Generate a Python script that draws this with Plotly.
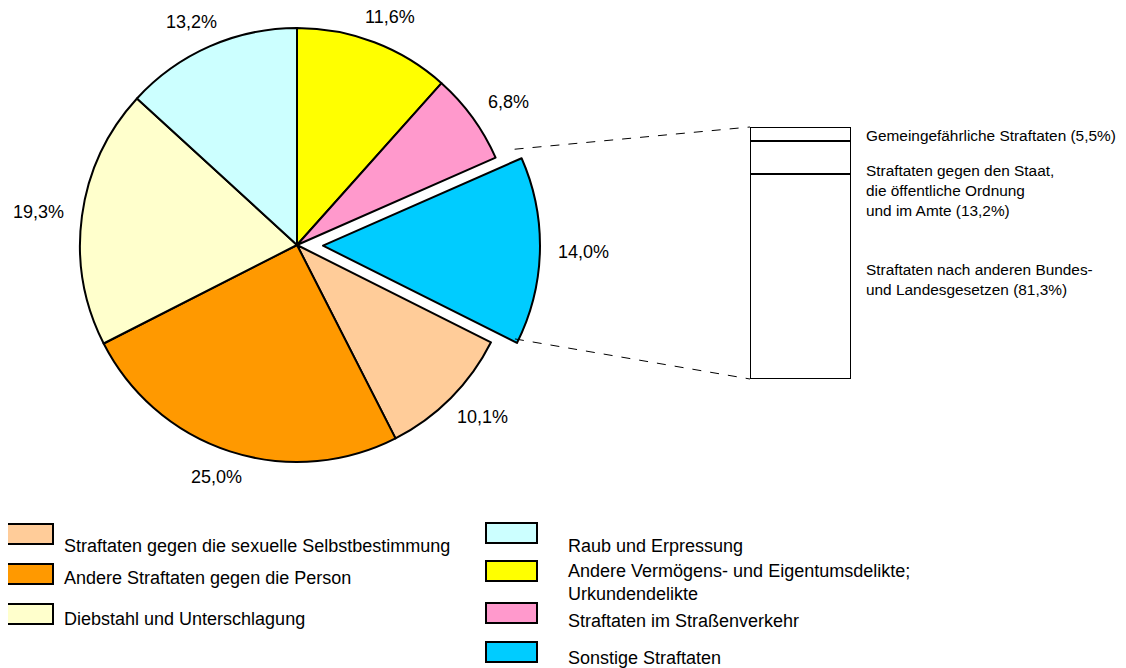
import math
import plotly.graph_objects as go

# ---------------- data ----------------
categories = [
    "Andere Vermögens- und Eigentumsdelikte; Urkundendelikte",
    "Straftaten im Straßenverkehr",
    "Sonstige Straftaten",
    "Straftaten gegen die sexuelle Selbstbestimmung",
    "Andere Straftaten gegen die Person",
    "Diebstahl und Unterschlagung",
    "Raub und Erpressung",
]
shares = [11.6, 6.8, 14.0, 10.1, 25.0, 19.3, 13.2]
share_labels = ["11,6%", "6,8%", "14,0%", "10,1%", "25,0%", "19,3%", "13,2%"]
legend_labels = {
    0: "Andere Vermögens- und Eigentumsdelikte;<br>Urkundendelikte",
    1: "Straftaten im Straßenverkehr",
    2: "Sonstige Straftaten",
    3: "Straftaten gegen die sexuelle Selbstbestimmung",
    4: "Andere Straftaten gegen die Person",
    5: "Diebstahl und Unterschlagung",
    6: "Raub und Erpressung",
}
sub_categories = ["Straftaten nach anderen Bundes- und Landesgesetzen",
                  "Straftaten gegen den Staat, die öffentliche Ordnung und im Amte",
                  "Gemeingefährliche Straftaten"]
sub_shares = [81.3, 13.2, 5.5]
sub_texts = ["Straftaten nach anderen Bundes-<br>und Landesgesetzen (81,3%)",
             "Straftaten gegen den Staat,<br>die öffentliche Ordnung<br>und im Amte (13,2%)",
             "Gemeingefährliche Straftaten (5,5%)"]

# ---------------- styles / layout ----------------
colors = ["#FFFF00", "#FF99CC", "#00CCFF", "#FFCC99", "#FF9900", "#FFFFCC", "#CCFFFF"]
exploded = 2           # index of the exploded slice
pull_px = 26           # explosion distance in pixels
W, H = 1126, 668
OFF = 8  # page margin of the html body
FONT = "Liberation Sans, Arial, sans-serif"
LW = 2.0


def px2paper(x, y):
    return (x - OFF) / W, 1 - (y - OFF) / H


pie_cx, pie_cy, R = 297, 245, 217

# slice angles (clockwise from 12 o'clock)
total = sum(shares)
angles = []
cum = 0.0
for v in shares:
    a0 = cum / total * 360
    cum += v
    angles.append((a0, cum / total * 360))

mid_ex = math.radians(sum(angles[exploded]) / 2)
ex_dx, ex_dy = pull_px * math.sin(mid_ex), -pull_px * math.cos(mid_ex)


def pie_domain(cx, cy):
    x0, y0 = px2paper(cx - R, cy + R)
    x1, y1 = px2paper(cx + R, cy - R)
    return dict(x=[x0, x1], y=[y0, y1])


fig = go.Figure()
# main pie (exploded slice hidden)
fig.add_trace(go.Pie(
    labels=categories, values=shares, sort=False, direction="clockwise", rotation=0,
    marker=dict(colors=[("rgba(0,0,0,0)" if i == exploded else c) for i, c in enumerate(colors)],
                line=dict(color="black",
                          width=[(0 if i == exploded else LW) for i in range(len(colors))])),
    textinfo="none", hoverinfo="label+percent",
    domain=pie_domain(pie_cx, pie_cy), showlegend=False,
))
# exploded slice, same pie shifted outward
fig.add_trace(go.Pie(
    labels=categories, values=shares, sort=False, direction="clockwise", rotation=0,
    marker=dict(colors=[(c if i == exploded else "rgba(0,0,0,0)") for i, c in enumerate(colors)],
                line=dict(color="black",
                          width=[(LW if i == exploded else 0) for i in range(len(colors))])),
    textinfo="none", hoverinfo="skip",
    domain=pie_domain(pie_cx + ex_dx, pie_cy + ex_dy), showlegend=False,
))

# stacked column for "Sonstige Straftaten"
bar_x0, bar_x1, bar_y0, bar_y1 = 750, 851, 127, 379
for name, val in zip(sub_categories, sub_shares):
    fig.add_trace(go.Bar(
        x=[0], y=[val], name=name, width=1, xaxis="x2", yaxis="y2",
        marker=dict(color="white", line=dict(color="black", width=2.4)),
        cliponaxis=False, showlegend=False, hoverinfo="name+y",
    ))

annotations = []
shapes = []

# percentage labels around pie
label_gap = 18
for i, lab in enumerate(share_labels):
    a0, a1 = angles[i]
    mid = math.radians((a0 + a1) / 2)
    s, c = math.sin(mid), math.cos(mid)
    cx = pie_cx + (ex_dx if i == exploded else 0)
    cy = pie_cy + (ex_dy if i == exploded else 0)
    px = cx + (R + label_gap) * s + s * 26
    py = cy - (R + label_gap) * c - c * 9
    xp, yp = px2paper(px, py)
    annotations.append(dict(x=xp, y=yp, xref="paper", yref="paper", text=lab,
                            showarrow=False, xanchor="center", yanchor="middle",
                            font=dict(family=FONT, size=18, color="black")))
    if i == exploded:
        # connector lines from exploded slice corners to column
        for ang, (tx, ty), (ox, oy) in ((a0, (bar_x0, bar_y0), (-7, -9)),
                                        (a1, (bar_x0, bar_y1), (-2, -4))):
            r_ = math.radians(ang)
            ex = cx + R * math.sin(r_) + ox
            ey = cy - R * math.cos(r_) + oy
            x0p, y0p = px2paper(ex, ey)
            x1p, y1p = px2paper(tx, ty)
            shapes.append(dict(type="line", xref="paper", yref="paper",
                               x0=x0p, y0=y0p, x1=x1p, y1=y1p,
                               line=dict(color="black", width=1, dash="dash")))

# texts next to column
sub_pos = [(864, 279), (864, 190), (864, 136)]
for txt, (x, y) in zip(sub_texts, sub_pos):
    xp, yp = px2paper(x, y)
    annotations.append(dict(x=xp, y=yp, xref="paper", yref="paper", text=txt,
                            showarrow=False, xanchor="left", yanchor="middle", align="left",
                            font=dict(family=FONT, size=15.4, color="black")))

# manual two-column legend
legend_order = [3, 4, 5, 6, 0, 1, 2]
legend_boxes = [(7, 524, 53), (7, 564, 53), (7, 604, 53),
                (486, 523, 537), (486, 561, 537), (486, 603, 537), (486, 642, 537)]
legend_text_pos = [(62, 546), (62, 578), (62, 619), (566, 546), (566, 582), (566, 621), (566, 658)]
for idx, (bx, by, bx1), (tx, ty) in zip(legend_order, legend_boxes, legend_text_pos):
    x0p, y0p = px2paper(bx, by)
    x1p, y1p = px2paper(bx1, by + 20)
    shapes.append(dict(type="rect", xref="paper", yref="paper", x0=x0p, y0=y1p,
                       x1=x1p, y1=y0p, fillcolor=colors[idx],
                       line=dict(color="black", width=2)))
    xp, yp = px2paper(tx, ty)
    annotations.append(dict(x=xp, y=yp, xref="paper", yref="paper", text=legend_labels[idx],
                            showarrow=False, xanchor="left", yanchor="middle", align="left",
                            font=dict(family=FONT, size=18, color="black")))

bx0p, by1p = px2paper(bar_x0, bar_y1)
bx1p, by0p = px2paper(bar_x1, bar_y0)
fig.update_layout(
    width=W, height=H, margin=dict(l=0, r=0, t=0, b=0),
    paper_bgcolor="white", plot_bgcolor="white", showlegend=False,
    barmode="stack",
    xaxis2=dict(domain=[bx0p, bx1p], range=[-0.5, 0.5], visible=False,
                anchor="y2", fixedrange=True),
    yaxis2=dict(domain=[by1p, by0p], range=[0, 100], visible=False,
                anchor="x2", fixedrange=True),
    annotations=annotations, shapes=shapes,
    font=dict(family=FONT),
)

fig.write_html("out.html")
